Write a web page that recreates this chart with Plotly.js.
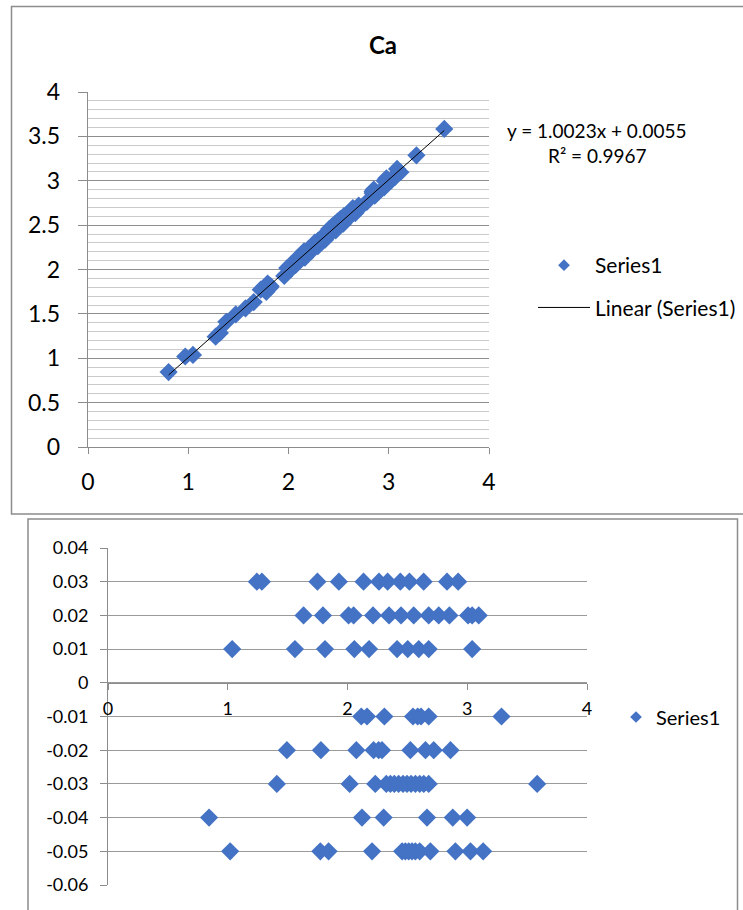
<!DOCTYPE html>
<html><head><meta charset="utf-8">
<script src="https://cdn.plot.ly/plotly-3.0.1.min.js"></script>
<style>html,body{margin:0;padding:0;background:#fff;}#chart{width:743px;height:910px;}</style>
</head><body><div id="chart"></div>
<script>
// Ca values (bottom-chart x = top-chart y) and residuals (rounded to 0.01)
const caMeasured = [
  1.243,1.285,1.749,1.928,2.134,2.263,2.335,2.441,2.517,2.636,2.831,2.924,
  1.633,1.795,2.009,2.051,2.213,2.347,2.447,2.553,2.678,2.762,2.851,3.007,3.041,3.096,
  1.037,1.561,1.812,2.057,2.180,2.414,2.503,2.595,2.678,3.041,
  2.115,2.163,2.308,2.547,2.586,2.614,2.678,3.286,
  1.494,1.778,2.074,2.218,2.260,2.288,2.525,2.651,2.720,2.860,
  1.410,2.018,2.232,2.324,2.358,2.391,2.427,2.464,2.497,2.531,2.567,2.603,2.637,2.678,3.584,
  0.844,2.121,2.302,2.664,2.879,2.999,
  1.020,1.773,1.842,2.205,2.456,2.483,2.511,2.539,2.567,2.603,2.692,2.901,3.027,3.133
];
const caResidual = [
  0.03,0.03,0.03,0.03,0.03,0.03,0.03,0.03,0.03,0.03,0.03,0.03,
  0.02,0.02,0.02,0.02,0.02,0.02,0.02,0.02,0.02,0.02,0.02,0.02,0.02,0.02,
  0.01,0.01,0.01,0.01,0.01,0.01,0.01,0.01,0.01,0.01,
  -0.01,-0.01,-0.01,-0.01,-0.01,-0.01,-0.01,-0.01,
  -0.02,-0.02,-0.02,-0.02,-0.02,-0.02,-0.02,-0.02,-0.02,-0.02,
  -0.03,-0.03,-0.03,-0.03,-0.03,-0.03,-0.03,-0.03,-0.03,-0.03,-0.03,-0.03,-0.03,-0.03,-0.03,
  -0.04,-0.04,-0.04,-0.04,-0.04,-0.04,
  -0.05,-0.05,-0.05,-0.05,-0.05,-0.05,-0.05,-0.05,-0.05,-0.05,-0.05,-0.05,-0.05,-0.05
];
const chartTitle = 'Ca';
const seriesName = 'Series1';
const trendName = 'Linear (Series1)';
const equationText = 'y = 1.0023x + 0.0055';
const r2Text = 'R\u00b2 = 0.9967';
const residTickVals = [0.04,0.03,0.02,0.01,0,-0.01,-0.02,-0.03,-0.04,-0.05,-0.06];
const residTickText = ['0.04','0.03','0.02','0.01','0','-0.01','-0.02','-0.03','-0.04','-0.05','-0.06'];

// top chart x = value + residual
const caReference = caMeasured.map((v,i)=>+(v+caResidual[i]).toFixed(4));

// least squares trendline
const n = caReference.length;
const mx = caReference.reduce((a,b)=>a+b,0)/n;
const my = caMeasured.reduce((a,b)=>a+b,0)/n;
let sxy=0,sxx=0;
for(let i=0;i<n;i++){sxy+=(caReference[i]-mx)*(caMeasured[i]-my);sxx+=(caReference[i]-mx)**2;}
const slope=sxy/sxx, icpt=my-slope*mx;
const xmin=Math.min(...caReference), xmax=Math.max(...caReference);
const trendX=[xmin,xmax], trendY=trendX.map(x=>slope*x+icpt);

const W=743,H=910;
const px=v=>v/W, py=v=>1-v/H;
const FONT='Lato, "Open Sans", sans-serif';
const BLUE='#4472C4', AX='#8c8c8c', GRID='#8e8e8e', MINOR='#cacaca';

const y2dom=[py(885),py(548)];
const zeroPos=y2dom[0]+(0-(-0.06))/(0.04-(-0.06))*(y2dom[1]-y2dom[0]);

const traces=[
  {x:caReference,y:caMeasured,xaxis:'x',yaxis:'y',type:'scatter',mode:'markers',showlegend:false,
   marker:{symbol:'diamond',size:14,color:BLUE}},
  {x:trendX,y:trendY,xaxis:'x',yaxis:'y',type:'scatter',mode:'lines',showlegend:false,
   line:{color:'#000',width:1}},
  {x:[null],y:[null],xaxis:'x',yaxis:'y',type:'scatter',mode:'markers',name:seriesName,legendgroup:'a',
   marker:{symbol:'diamond',size:9,color:BLUE},legend:'legend'},
  {x:[null],y:[null],xaxis:'x',yaxis:'y',type:'scatter',mode:'lines',name:trendName,legendgroup:'b',
   line:{color:'#000',width:1},legend:'legend'},
  {x:caMeasured,y:caResidual,xaxis:'x2',yaxis:'y2',type:'scatter',mode:'markers',showlegend:false,
   marker:{symbol:'diamond',size:14,color:BLUE}},
  {x:[null],y:[null],xaxis:'x2',yaxis:'y2',type:'scatter',mode:'markers',name:seriesName,
   marker:{symbol:'diamond',size:9,color:BLUE},legend:'legend2'}
];

const layout={
  width:W,height:H,margin:{l:0,r:0,t:0,b:0,autoexpand:false},
  paper_bgcolor:'#fff',plot_bgcolor:'rgba(0,0,0,0)',
  font:{family:FONT,color:'#000'},
  title:{text:'<b>'+chartTitle+'</b>',font:{family:FONT,size:24,color:'#000'},
    x:px(383),y:py(46),xanchor:'center',yanchor:'middle'},
  xaxis:{domain:[px(88),px(489)],range:[0,4],anchor:'y',dtick:1,tick0:0,automargin:false,
    showgrid:false,zeroline:false,showline:true,linecolor:AX,linewidth:1,
    ticks:'outside',ticklen:6,tickcolor:AX,tickfont:{family:FONT,size:23,color:'#000'},ticklabelstandoff:8},
  yaxis:{domain:[py(447),py(92)],range:[0,4],anchor:'x',dtick:0.5,tick0:0,automargin:false,
    showgrid:true,gridcolor:GRID,gridwidth:1,zeroline:false,showline:true,linecolor:AX,linewidth:1,
    ticks:'outside',ticklen:9,tickcolor:AX,tickfont:{family:FONT,size:23,color:'#000'},ticksuffix:'\u2007',
    minor:{dtick:0.1,tick0:0,showgrid:true,gridcolor:MINOR,gridwidth:1,ticks:''}},
  xaxis2:{domain:[px(108),px(587)],range:[0,4],anchor:'free',position:zeroPos,dtick:1,tick0:0,automargin:false,
    showgrid:false,zeroline:false,showline:true,linecolor:AX,linewidth:1,
    ticks:'outside',ticklen:6,tickcolor:AX,tickfont:{family:FONT,size:18,color:'#000'},ticklabelstandoff:4},
  yaxis2:{domain:y2dom,range:[-0.06,0.04],anchor:'x2',tickmode:'array',tickvals:residTickVals,ticktext:residTickText,automargin:false,
    showgrid:true,gridcolor:'#9a9a9a',gridwidth:1,zeroline:false,showline:true,linecolor:AX,linewidth:1,
    ticks:'outside',ticklen:7,tickcolor:AX,tickfont:{family:FONT,size:18,color:'#000'},ticklabelstandoff:8},
  legend:{x:px(533),y:py(245),xanchor:'left',yanchor:'top',font:{family:FONT,size:21,color:'#000'},
    bgcolor:'rgba(0,0,0,0)',tracegroupgap:12,itemwidth:52},
  legend2:{x:px(616),y:py(717),xanchor:'left',yanchor:'middle',font:{family:FONT,size:20,color:'#000'},
    bgcolor:'rgba(0,0,0,0)'},
  annotations:[
    {xref:'paper',yref:'paper',x:px(596),y:py(131),text:equationText,showarrow:false,
     xanchor:'center',yanchor:'middle',font:{family:FONT,size:19,color:'#000'}},
    {xref:'paper',yref:'paper',x:px(597),y:py(155),text:r2Text,showarrow:false,
     xanchor:'center',yanchor:'middle',font:{family:FONT,size:19,color:'#000'}}
  ],
  shapes:[
    {type:'rect',xref:'paper',yref:'paper',x0:px(11.5),x1:px(760),y0:py(514),y1:py(6.5),
     line:{color:'#8c8c8c',width:1.5},fillcolor:'rgba(0,0,0,0)',layer:'below'},
    {type:'rect',xref:'paper',yref:'paper',x0:px(28),x1:px(737.5),y0:py(930),y1:py(519),
     line:{color:'#8c8c8c',width:1.5},fillcolor:'rgba(0,0,0,0)',layer:'below'}
  ]
};

Plotly.newPlot('chart',traces,layout,{staticPlot:true,displayModeBar:false});
</script>
</body></html>
